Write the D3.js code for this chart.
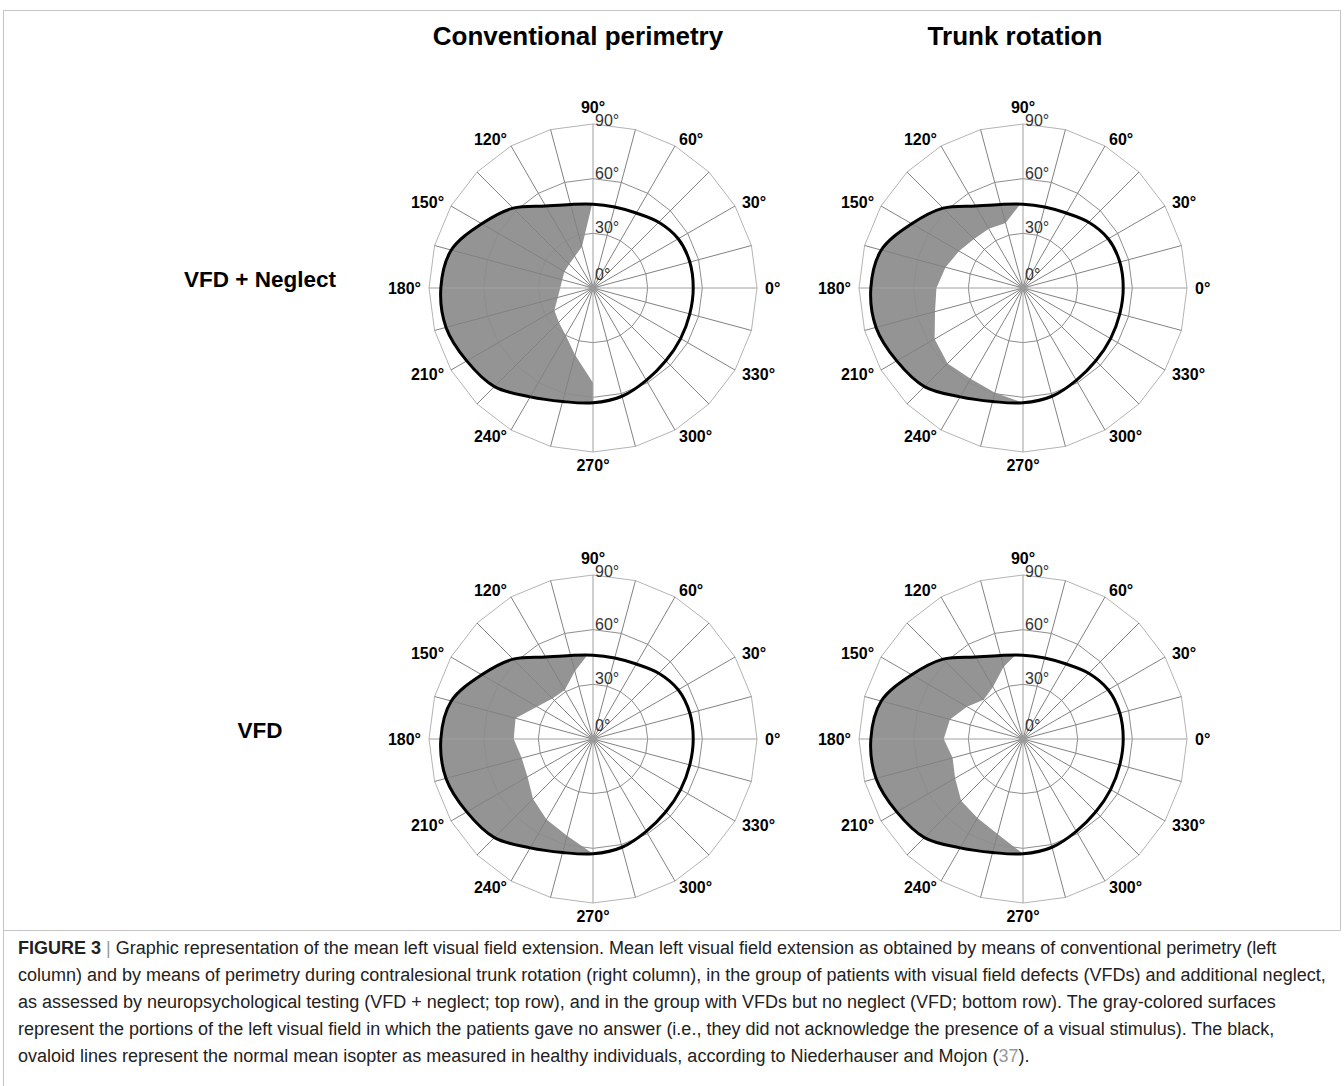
<!DOCTYPE html>
<html>
<head>
<meta charset="utf-8">
<script src="https://cdn.jsdelivr.net/npm/d3@7"></script>
<style>
    body { margin: 0; background: #fff; }
    svg { display: block; font-family: "Liberation Sans", Arial, sans-serif; }
</style>
</head>
<body>
<svg width="1344" height="1086"></svg>
<script>
// meridians of the perimetry grid, degrees, 0 = right, counter-clockwise
var meridians = [0, 15, 30, 45, 60, 75, 90, 105, 120, 135, 150, 165,
                 180, 195, 210, 225, 240, 255, 270, 285, 300, 315, 330, 345];
// normal mean isopter (Niederhauser & Mojon), eccentricity in degrees
var normalIsopter = [55, 55, 54, 51, 47.5, 46, 46, 47.5, 52, 62, 70.5, 80.5,
                     83.5, 83.5, 80, 76.5, 69, 64.5, 63, 61.5, 58.5, 56.5, 55.5, 55];

// mean left field extension, meridians 90..270
var leftMeridians = [90, 105, 120, 135, 150, 165, 180, 195, 210, 225, 240, 255, 270];
var convNeglect  = [48, 23.5, 20, 18.5, 18, 17.5, 18, 20, 24.5, 26.5, 30, 38, 52];
var trunkNeglect = [48, 37, 37.5, 38, 40.5, 44, 47.5, 50, 56, 58.5, 57.5, 59.5, 63];
var convVfd      = [50, 38.5, 31, 31.5, 35.5, 44, 43.5, 40.5, 41.5, 46.5, 51, 55, 63];
var trunkVfd     = [50, 41, 33, 30.5, 35.5, 41.5, 43.5, 40, 43, 48, 50, 54, 63];

var ringLevels = [30, 60, 90];
var radialTicks = [0, 30, 60, 90];
var angleTicks = [0, 30, 60, 90, 120, 150, 180, 210, 240, 270, 300, 330];
var columnTitles = ["Conventional perimetry", "Trunk rotation"];
var rowTitles = ["VFD + Neglect", "VFD"];

var captionLines = [
    "column) and by means of perimetry during contralesional trunk rotation (right column), in the group of patients with visual field defects (VFDs) and additional neglect,",
    "as assessed by neuropsychological testing (VFD + neglect; top row), and in the group with VFDs but no neglect (VFD; bottom row). The gray-colored surfaces",
    "represent the portions of the left visual field in which the patients gave no answer (i.e., they did not acknowledge the presence of a visual stimulus). The black,"
];

window.onload = main;

function main() {
    var svg = d3.select("svg");
    var defs = svg.append("defs");

    var colX = [593, 1023],
        rowY = [288, 739];

    var r = d3.scaleLinear().domain([0, 90]).range([0, 164]);

    function rad(deg) { return (90 - deg) * Math.PI / 180; }

    var ringLine = d3.lineRadial()
        .angle(function (d) { return rad(d); })
        .curve(d3.curveLinearClosed);

    var isopterLine = d3.lineRadial()
        .angle(function (d, i) { return rad(meridians[i]); })
        .radius(function (d) { return r(d); })
        .curve(d3.curveCatmullRomClosed.alpha(0.5));

    var fieldLine = d3.lineRadial()
        .angle(function (d) { return rad(d[0]); })
        .radius(function (d) { return r(d[1]); })
        .curve(d3.curveLinearClosed);

    // frame
    var frame = svg.append("g").attr("fill", "none").attr("stroke", "#c4c4c4");
    frame.append("path").attr("d", "M3.5,1086V10.5H1340.5V930.5H3.5");

    // titles
    svg.selectAll(".coltitle")
        .data(columnTitles)
        .enter()
        .append("text")
        .attr("x", function (d, i) { return colX[i] - 15 + (i == 1 ? 7 : 0); })
        .attr("y", 45)
        .attr("text-anchor", "middle")
        .attr("font-weight", "bold")
        .attr("font-size", 26)
        .text(function (d) { return d; });

    svg.selectAll(".rowtitle")
        .data(rowTitles)
        .enter()
        .append("text")
        .attr("x", 260)
        .attr("y", function (d, i) { return rowY[i] - 1; })
        .attr("text-anchor", "middle")
        .attr("font-weight", "bold")
        .attr("font-size", 22.5)
        .text(function (d) { return d; });

    var panels = [
        { row: 0, col: 0, field: convNeglect },
        { row: 0, col: 1, field: trunkNeglect },
        { row: 1, col: 0, field: convVfd },
        { row: 1, col: 1, field: trunkVfd },
    ];

    panels.forEach(function (p, k) {
        var g = svg.append("g")
            .attr("transform", "translate(" + colX[p.col] + "," + rowY[p.row] + ")");

        var pts = leftMeridians.map(function (m, i) { return [m, p.field[i]]; });
        pts.push([270, 0]);

        // non-seen area = left half of the isopter minus the patients' field
        var mask = defs.append("mask").attr("id", "miss" + k);
        mask.append("rect").attr("x", -200).attr("y", -200)
            .attr("width", 400).attr("height", 400).attr("fill", "#000");
        mask.append("path").attr("d", isopterLine(normalIsopter)).attr("fill", "#fff");
        mask.append("path").attr("d", fieldLine(pts)).attr("fill", "#000");

        g.append("rect")
            .attr("x", -r(90) - 5).attr("y", -r(90) - 5)
            .attr("width", r(90) + 5).attr("height", 2 * r(90) + 10)
            .attr("fill", "#949494")
            .attr("mask", "url(#miss" + k + ")");

        // grid
        g.selectAll(".ring")
            .data(ringLevels)
            .enter()
            .append("path")
            .attr("d", function (lv) { return ringLine.radius(r(lv))(meridians); })
            .attr("fill", "none")
            .attr("stroke", function (lv) { return lv == 90 ? "#b4b4b4" : "#8e8e8e"; })
            .attr("stroke-width", 1);

        g.selectAll(".spoke")
            .data(meridians)
            .enter()
            .append("line")
            .attr("x2", function (m) { return r(90) * Math.cos(m * Math.PI / 180); })
            .attr("y2", function (m) { return -r(90) * Math.sin(m * Math.PI / 180); })
            .attr("stroke", function (m) { return m % 90 == 0 ? "#a0a0a0" : "#828282"; })
            .attr("stroke-width", 1);

        g.append("circle").attr("r", 4).attr("fill", "#9a9a9a");

        // normal isopter
        g.append("path")
            .attr("d", isopterLine(normalIsopter))
            .attr("fill", "none")
            .attr("stroke", "#000")
            .attr("stroke-width", 3);

        // eccentricity labels
        g.selectAll(".rtick")
            .data(radialTicks)
            .enter()
            .append("text")
            .attr("x", 2)
            .attr("y", function (v) { return -Math.max(r(v), 8) + (v == 90 ? 2 : 0); })
            .attr("font-size", 16)
            .attr("fill", "#333")
            .text(function (v) { return v + "°"; });

        // meridian labels
        g.selectAll(".atick")
            .data(angleTicks)
            .enter()
            .append("text")
            .attr("x", function (a) { return 172 * Math.cos(a * Math.PI / 180); })
            .attr("y", function (a) {
                var y = -172 * Math.sin(a * Math.PI / 180);
                if (a == 90) return y - 3;
                return y;
            })
            .attr("text-anchor", function (a) {
                var c = Math.cos(a * Math.PI / 180);
                return c > 0.1 ? "start" : c < -0.1 ? "end" : "middle";
            })
            .attr("dominant-baseline", function (a) {
                return a == 90 ? "auto" : a == 270 ? "hanging" : "central";
            })
            .attr("font-size", 16)
            .attr("font-weight", "bold")
            .text(function (a) { return a + "°"; });
    });

    // caption
    var cap = svg.append("g").attr("font-size", 18).attr("fill", "#222");
    var first = cap.append("text").attr("x", 18).attr("y", 954);
    first.append("tspan").attr("font-weight", "bold").text("FIGURE 3");
    first.append("tspan").attr("fill", "#999").text(" | ");
    first.append("tspan").text("Graphic representation of the mean left visual field extension. Mean left visual field extension as obtained by means of conventional perimetry (left");

    cap.selectAll(".capline")
        .data(captionLines)
        .enter()
        .append("text")
        .attr("x", 18)
        .attr("y", function (d, i) { return 981 + i * 27; })
        .text(function (d) { return d; });

    var last = cap.append("text").attr("x", 18).attr("y", 1062);
    last.append("tspan").text("ovaloid lines represent the normal mean isopter as measured in healthy individuals, according to Niederhauser and Mojon (");
    last.append("tspan").attr("fill", "#999").text("37");
    last.append("tspan").text(").");
}
</script>
</body>
</html>
